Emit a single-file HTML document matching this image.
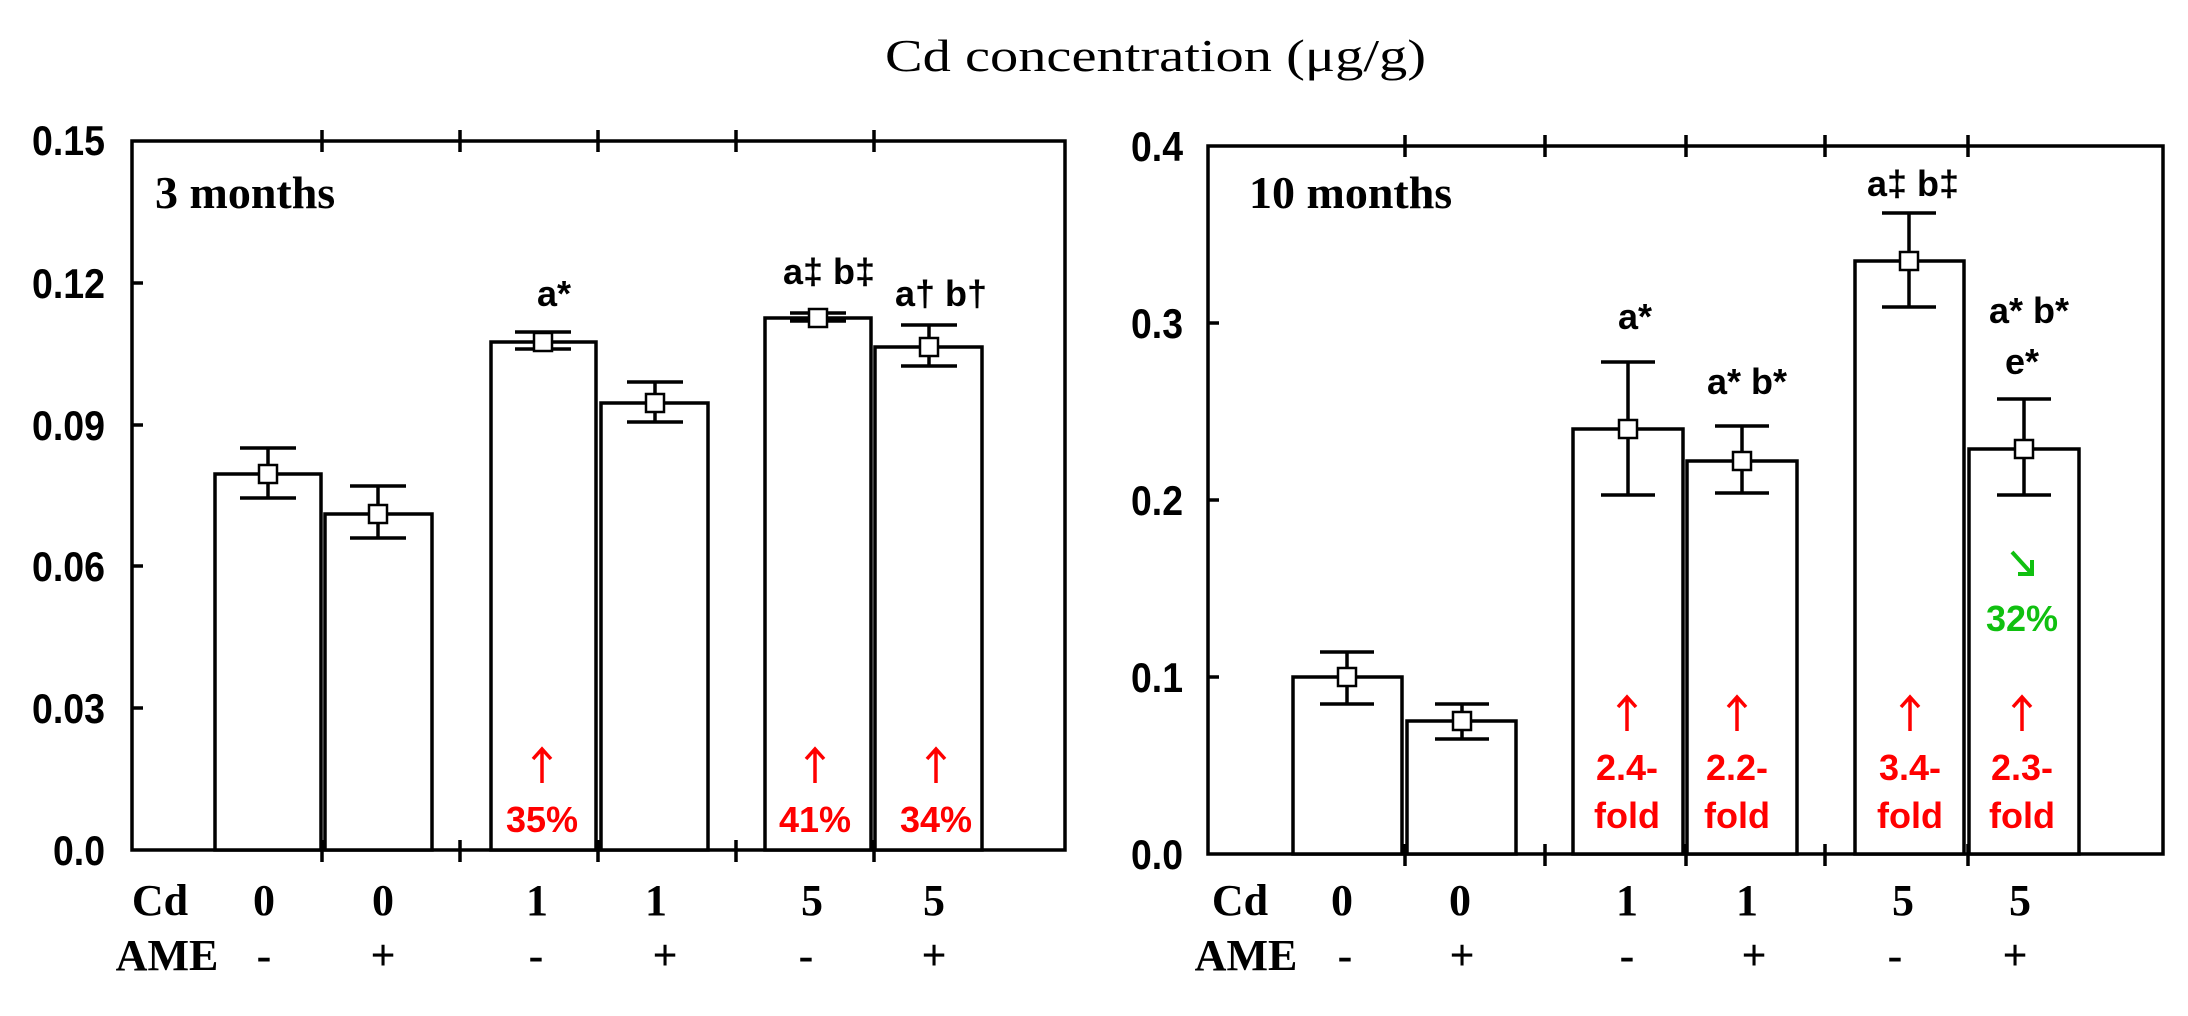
<!DOCTYPE html>
<html><head><meta charset="utf-8"><style>
html,body{margin:0;padding:0;background:#fff;}
svg{display:block}
.ax{font-family:"Liberation Sans",sans-serif;font-weight:bold;font-size:42px;fill:#000}
.sr{font-family:"Liberation Serif",serif;font-weight:bold;fill:#000}
.an{font-family:"Liberation Sans",sans-serif;font-weight:bold;font-size:36px;fill:#000;text-anchor:middle}
.rd{font-family:"Liberation Sans",sans-serif;font-weight:bold;font-size:36px;fill:#ff0000;text-anchor:middle}
.gr{font-family:"Liberation Sans",sans-serif;font-weight:bold;font-size:36px;fill:#10c010;text-anchor:middle}
</style></head><body>
<svg width="2188" height="1016" viewBox="0 0 2188 1016" xmlns="http://www.w3.org/2000/svg">
<defs>
<g id="up" fill="none" stroke="#ff0000" stroke-width="3.5"><path d="M0 0V34M-9 10L0 0L9 10"/></g>
</defs>
<text x="885" y="71" font-family="Liberation Serif,serif" font-size="46" textLength="541" lengthAdjust="spacingAndGlyphs">Cd concentration (μg/g)</text>

<!-- LEFT PANEL -->
<g stroke="#000" stroke-width="3.5" fill="none">
<rect x="132" y="141" width="933" height="709"/>
<path d="M322 130V152M460 130V152M598 130V152M736 130V152M874 130V152"/>
<path d="M322 840V862M460 840V862M598 840V862M736 840V862M874 840V862"/>
<path d="M132 283H143M132 425H143M132 566H143M132 708H143"/>
<rect x="215" y="474" width="106" height="376" fill="#fff"/>
<rect x="325" y="514" width="107" height="336" fill="#fff"/>
<rect x="491" y="342" width="105" height="508" fill="#fff"/>
<rect x="601" y="403" width="107" height="447" fill="#fff"/>
<rect x="765" y="318" width="106" height="532" fill="#fff"/>
<rect x="875" y="347" width="107" height="503" fill="#fff"/>
<path d="M268 448V498M240 448H296M240 498H296"/>
<path d="M378 486V538M350 486H406M350 538H406"/>
<path d="M543 332V349M515 332H571M515 349H571"/>
<path d="M655 382V422M627 382H683M627 422H683"/>
<path d="M818 313V321M790 313H846M790 321H846"/>
<path d="M929 325V366M901 325H957M901 366H957"/>
<g stroke-width="2.5">
<rect x="259" y="465" width="18" height="18" fill="#fff"/>
<rect x="369" y="505" width="18" height="18" fill="#fff"/>
<rect x="534" y="333" width="18" height="18" fill="#fff"/>
<rect x="646" y="394" width="18" height="18" fill="#fff"/>
<rect x="809" y="309" width="18" height="18" fill="#fff"/>
<rect x="920" y="338" width="18" height="18" fill="#fff"/>
</g>
</g>
<g class="ax" text-anchor="end">
<text x="105" y="155" textLength="73" lengthAdjust="spacingAndGlyphs">0.15</text>
<text x="105" y="298" textLength="73" lengthAdjust="spacingAndGlyphs">0.12</text>
<text x="105" y="440" textLength="73" lengthAdjust="spacingAndGlyphs">0.09</text>
<text x="105" y="581" textLength="73" lengthAdjust="spacingAndGlyphs">0.06</text>
<text x="105" y="723" textLength="73" lengthAdjust="spacingAndGlyphs">0.03</text>
<text x="105" y="865" textLength="52" lengthAdjust="spacingAndGlyphs">0.0</text>
</g>
<text class="sr" x="155" y="208" font-size="46">3 months</text>
<g class="sr" font-size="44" text-anchor="middle">
<text x="160" y="915">Cd</text>
<text x="264" y="915">0</text><text x="383" y="915">0</text>
<text x="537" y="915">1</text><text x="656" y="915">1</text>
<text x="812" y="915">5</text><text x="934" y="915">5</text>
<text x="167" y="970">AME</text>
<text x="264" y="970">-</text><text x="383" y="970">+</text>
<text x="536" y="970">-</text><text x="665" y="970">+</text>
<text x="806" y="970">-</text><text x="934" y="970">+</text>
</g>
<text class="an" x="554" y="306">a*</text>
<text class="an" x="829" y="284">a‡ b‡</text>
<text class="an" x="941" y="306">a† b†</text>
<use href="#up" x="542" y="749"/><text class="rd" x="542" y="832">35%</text>
<use href="#up" x="815" y="749"/><text class="rd" x="815" y="832">41%</text>
<use href="#up" x="936" y="749"/><text class="rd" x="936" y="832">34%</text>

<!-- RIGHT PANEL -->
<g stroke="#000" stroke-width="3.5" fill="none">
<rect x="1208" y="146" width="955" height="708"/>
<path d="M1405 135V157M1545 135V157M1686 135V157M1825 135V157M1968 135V157"/>
<path d="M1405 844V866M1545 844V866M1686 844V866M1825 844V866M1968 844V866"/>
<path d="M1208 323H1219M1208 500H1219M1208 677H1219"/>
<rect x="1293" y="677" width="109" height="177" fill="#fff"/>
<rect x="1407" y="721" width="109" height="133" fill="#fff"/>
<rect x="1573" y="429" width="110" height="425" fill="#fff"/>
<rect x="1687" y="461" width="110" height="393" fill="#fff"/>
<rect x="1855" y="261" width="109" height="593" fill="#fff"/>
<rect x="1969" y="449" width="110" height="405" fill="#fff"/>
<path d="M1347 652V704M1320 652H1374M1320 704H1374"/>
<path d="M1462 704V739M1435 704H1489M1435 739H1489"/>
<path d="M1628 362V495M1601 362H1655M1601 495H1655"/>
<path d="M1742 426V493M1715 426H1769M1715 493H1769"/>
<path d="M1909 213V307M1882 213H1936M1882 307H1936"/>
<path d="M2024 399V495M1997 399H2051M1997 495H2051"/>
<g stroke-width="2.5">
<rect x="1338" y="668" width="18" height="18" fill="#fff"/>
<rect x="1453" y="712" width="18" height="18" fill="#fff"/>
<rect x="1619" y="420" width="18" height="18" fill="#fff"/>
<rect x="1733" y="452" width="18" height="18" fill="#fff"/>
<rect x="1900" y="252" width="18" height="18" fill="#fff"/>
<rect x="2015" y="440" width="18" height="18" fill="#fff"/>
</g>
</g>
<g class="ax" text-anchor="end">
<text x="1183" y="161" textLength="52" lengthAdjust="spacingAndGlyphs">0.4</text>
<text x="1183" y="338" textLength="52" lengthAdjust="spacingAndGlyphs">0.3</text>
<text x="1183" y="515" textLength="52" lengthAdjust="spacingAndGlyphs">0.2</text>
<text x="1183" y="692" textLength="52" lengthAdjust="spacingAndGlyphs">0.1</text>
<text x="1183" y="869" textLength="52" lengthAdjust="spacingAndGlyphs">0.0</text>
</g>
<text class="sr" x="1249" y="208" font-size="46">10 months</text>
<g class="sr" font-size="44" text-anchor="middle">
<text x="1240" y="915">Cd</text>
<text x="1342" y="915">0</text><text x="1460" y="915">0</text>
<text x="1627" y="915">1</text><text x="1747" y="915">1</text>
<text x="1903" y="915">5</text><text x="2020" y="915">5</text>
<text x="1246" y="970">AME</text>
<text x="1345" y="970">-</text><text x="1462" y="970">+</text>
<text x="1627" y="970">-</text><text x="1754" y="970">+</text>
<text x="1895" y="970">-</text><text x="2015" y="970">+</text>
</g>
<text class="an" x="1635" y="329">a*</text>
<text class="an" x="1747" y="394">a* b*</text>
<text class="an" x="1913" y="196">a‡ b‡</text>
<text class="an" x="2029" y="323">a* b*</text>
<text class="an" x="2022" y="374">e*</text>
<g fill="none" stroke="#10c010" stroke-width="4"><path d="M2012 552L2032 574M2032 560V574H2018"/></g>
<text class="gr" x="2022" y="631">32%</text>
<use href="#up" x="1627" y="697"/><text class="rd" x="1627" y="780">2.4-</text><text class="rd" x="1627" y="828">fold</text>
<use href="#up" x="1737" y="697"/><text class="rd" x="1737" y="780">2.2-</text><text class="rd" x="1737" y="828">fold</text>
<use href="#up" x="1910" y="697"/><text class="rd" x="1910" y="780">3.4-</text><text class="rd" x="1910" y="828">fold</text>
<use href="#up" x="2022" y="697"/><text class="rd" x="2022" y="780">2.3-</text><text class="rd" x="2022" y="828">fold</text>
</svg>
</body></html>
